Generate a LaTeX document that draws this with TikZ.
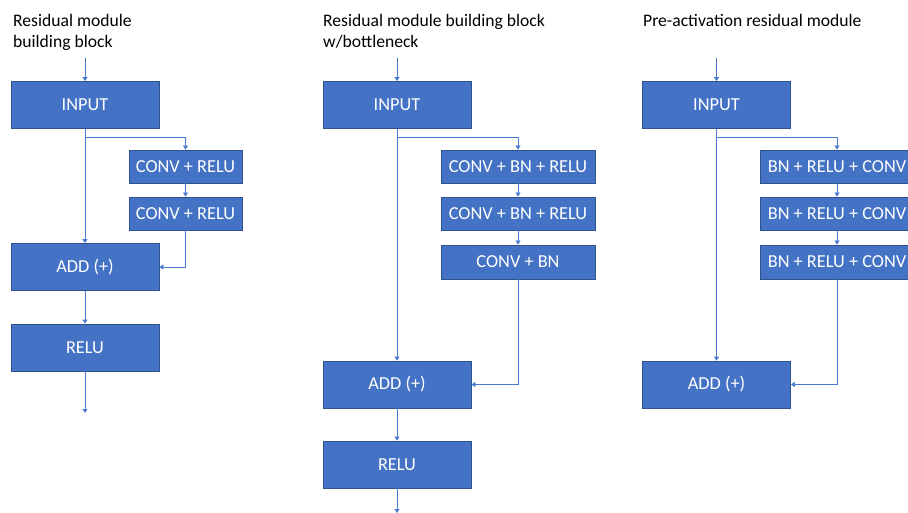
\documentclass[tikz,border=0pt]{standalone}
\usepackage{fontspec}
\setmainfont{Carlito}
\usetikzlibrary{arrows.meta}
\definecolor{boxblue}{HTML}{4472C4}
\definecolor{boxedge}{HTML}{2F528F}
\definecolor{linkblue}{HTML}{4A7BD0}

\begin{document}
\begin{tikzpicture}[x=1pt,y=-1pt,
  blk/.style={draw=boxedge,fill=boxblue,text=white,line width=0.8pt,inner sep=0pt,
    minimum width=148pt,minimum height=47pt,font=\fontsize{18.3}{21}\selectfont},
  sblk/.style={blk,minimum width=113pt,minimum height=33pt},
  mblk/.style={blk,minimum width=154pt,minimum height=33pt},
  link/.style={draw=linkblue,line width=0.8pt,-{Triangle[width=5pt,length=4pt]}},
  title/.style={anchor=north west,inner sep=0pt,align=left,font=\fontsize{17.6}{21}\selectfont}]
  \useasboundingbox (0,0) rectangle (908,513);

  \node[title] (t1) at (13,14) {Residual module\\building block};
  \node[blk] (in1) at (85,105) {INPUT};
  \node[sblk] (c1a) at (185.5,166.5) {CONV + RELU};
  \node[sblk] (c1b) at (185.5,213.5) {CONV + RELU};
  \node[blk] (add1) at (85,267) {ADD (+)};
  \node[blk] (relu1) at (85,347.5) {RELU};
  \coordinate (top1) at (85,58);
  \coordinate (out1) at (85,413);
  \draw[link] (top1) -- (in1);
  \draw[link] (in1) -- (add1);
  \draw[link] (in1.south) ++(0,9) -| (c1a.north);
  \draw[link] (c1a) -- (c1b);
  \draw[link] (c1b.south) |- (add1.east);
  \draw[link] (add1) -- (relu1);
  \draw[link] (relu1) -- (out1);

  \node[title] (t2) at (323,14) {Residual module building block\\w/bottleneck};
  \node[blk] (in2) at (397,105) {INPUT};
  \node[mblk] (c2a) at (518,166.5) {CONV + BN + RELU};
  \node[mblk] (c2b) at (518,213.5) {CONV + BN + RELU};
  \node[mblk,minimum height=34pt] (c2c) at (518,262) {CONV + BN};
  \node[blk] (add2) at (397,384.5) {ADD (+)};
  \node[blk] (relu2) at (397,464.5) {RELU};
  \coordinate (top2) at (397,58);
  \coordinate (out2) at (397,513);
  \draw[link] (top2) -- (in2);
  \draw[link] (in2) -- (add2);
  \draw[link] (in2.south) ++(0,9) -| (c2a.north);
  \draw[link] (c2a) -- (c2b);
  \draw[link] (c2b) -- (c2c);
  \draw[link] (c2c.south) |- (add2.east);
  \draw[link] (add2) -- (relu2);
  \draw[link] (relu2) -- (out2);

  \node[title] (t3) at (643,14) {Pre-activation residual module};
  \node[blk] (in3) at (716.5,105) {INPUT};
  \node[mblk] (c3a) at (837,166.5) {BN + RELU + CONV};
  \node[mblk] (c3b) at (837,213.5) {BN + RELU + CONV};
  \node[mblk,minimum height=34pt] (c3c) at (837,262) {BN + RELU + CONV};
  \node[blk] (add3) at (716.5,384.5) {ADD (+)};
  \coordinate (top3) at (716.5,58);
  \coordinate (out3) at (716.5,438);
  \draw[link] (top3) -- (in3);
  \draw[link] (in3) -- (add3);
  \draw[link] (in3.south) ++(0,9) -| (c3a.north);
  \draw[link] (c3a) -- (c3b);
  \draw[link] (c3b) -- (c3c);
  \draw[link] (c3c.south) |- (add3.east);
\end{tikzpicture}
\end{document}
